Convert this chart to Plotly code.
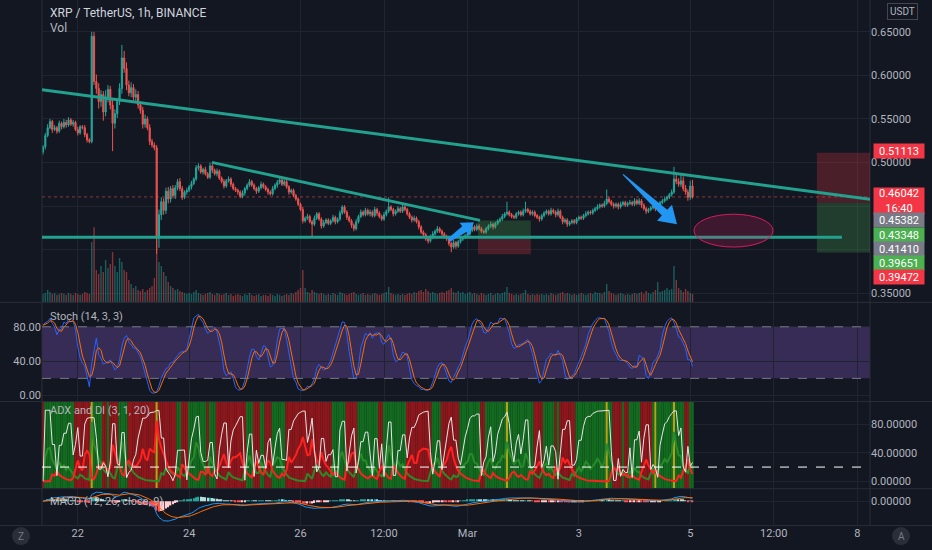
import numpy as np
import pandas as pd
import plotly.graph_objects as go

# XRP / TetherUS 1h candles (Binance); first bar 2021-02-21 09:00
start = "2021-02-21 09:00"
first_open = 0.512
closes = [
    0.518, 0.531, 0.540, 0.547, 0.538, 0.540, 0.536, 0.545, 0.541, 0.546, 0.543, 0.549,
    0.544, 0.546, 0.538, 0.534, 0.541, 0.540, 0.532, 0.526, 0.524, 0.645, 0.593, 0.585,
    0.570, 0.578, 0.558, 0.575, 0.584, 0.566, 0.545, 0.556, 0.570, 0.585, 0.620, 0.608,
    0.589, 0.580, 0.586, 0.575, 0.578, 0.566, 0.560, 0.544, 0.550, 0.540, 0.524, 0.520,
    0.517, 0.414, 0.440, 0.455, 0.445, 0.467, 0.458, 0.470, 0.462, 0.471, 0.478, 0.470,
    0.460, 0.466, 0.468, 0.472, 0.476, 0.481, 0.494, 0.496, 0.489, 0.492, 0.487, 0.483,
    0.496, 0.491, 0.487, 0.490, 0.482, 0.478, 0.473, 0.479, 0.481, 0.475, 0.470, 0.468,
    0.466, 0.461, 0.465, 0.470, 0.474, 0.478, 0.474, 0.470, 0.467, 0.471, 0.475, 0.472,
    0.469, 0.466, 0.464, 0.470, 0.474, 0.477, 0.480, 0.475, 0.478, 0.472, 0.466, 0.468,
    0.462, 0.458, 0.452, 0.446, 0.433, 0.436, 0.438, 0.432, 0.429, 0.436, 0.441, 0.435,
    0.427, 0.431, 0.434, 0.430, 0.433, 0.437, 0.432, 0.435, 0.442, 0.449, 0.443, 0.437,
    0.433, 0.428, 0.424, 0.432, 0.438, 0.443, 0.440, 0.445, 0.441, 0.443, 0.439, 0.446,
    0.442, 0.438, 0.435, 0.440, 0.444, 0.449, 0.446, 0.441, 0.444, 0.447, 0.444, 0.449,
    0.446, 0.441, 0.437, 0.434, 0.436, 0.432, 0.426, 0.420, 0.417, 0.412, 0.410, 0.414,
    0.418, 0.421, 0.424, 0.421, 0.418, 0.415, 0.412, 0.407, 0.403, 0.408, 0.404, 0.409,
    0.412, 0.414, 0.416, 0.418, 0.422, 0.426, 0.423, 0.427, 0.424, 0.421, 0.420, 0.424,
    0.427, 0.429, 0.426, 0.430, 0.433, 0.435, 0.438, 0.441, 0.443, 0.440, 0.438, 0.437,
    0.441, 0.443, 0.440, 0.444, 0.446, 0.444, 0.441, 0.443, 0.439, 0.437, 0.435, 0.439,
    0.442, 0.444, 0.441, 0.445, 0.443, 0.440, 0.444, 0.437, 0.432, 0.434, 0.429, 0.431,
    0.433, 0.431, 0.435, 0.437, 0.436, 0.439, 0.441, 0.443, 0.442, 0.445, 0.447, 0.449,
    0.451, 0.450, 0.453, 0.458, 0.455, 0.452, 0.450, 0.452, 0.449, 0.452, 0.454, 0.451,
    0.453, 0.454, 0.452, 0.456, 0.453, 0.456, 0.451, 0.447, 0.444, 0.446, 0.448, 0.450,
    0.447, 0.451, 0.454, 0.456, 0.458, 0.460, 0.463, 0.466, 0.481, 0.478, 0.475, 0.479,
    0.470, 0.466, 0.460, 0.473, 0.46042,
]
# wick lengths beyond the candle body, in thousandths of a dollar
upper_wick = [
    2, 3, 4, 3, 2, 3, 2, 3, 2, 4, 3, 3,
    2, 3, 2, 3, 2, 2, 3, 2, 2, 5, 5, 8,
    6, 5, 4, 8, 5, 4, 6, 5, 4, 6, 15, 8,
    7, 5, 6, 4, 6, 4, 3, 4, 5, 3, 4, 3,
    3, 3, 6, 5, 4, 4, 5, 3, 4, 3, 3, 4,
    3, 2, 3, 2, 3, 2, 3, 3, 2, 2, 3, 2,
    4, 2, 2, 3, 2, 2, 3, 2, 3, 2, 2, 2,
    2, 2, 3, 2, 2, 3, 2, 2, 2, 2, 3, 2,
    2, 2, 2, 3, 2, 3, 2, 2, 3, 2, 2, 2,
    2, 2, 2, 2, 3, 2, 3, 2, 2, 3, 2, 2,
    2, 3, 2, 2, 2, 3, 2, 2, 3, 2, 2, 2,
    2, 2, 2, 3, 2, 3, 2, 3, 2, 3, 2, 3,
    2, 2, 2, 3, 2, 11, 2, 2, 2, 3, 2, 3,
    2, 2, 2, 2, 3, 2, 2, 2, 2, 2, 2, 3,
    3, 2, 3, 2, 2, 2, 2, 2, 2, 3, 2, 2,
    2, 2, 2, 2, 3, 2, 2, 3, 2, 2, 2, 2,
    2, 3, 2, 2, 2, 2, 3, 2, 12, 2, 2, 2,
    2, 2, 2, 3, 9, 2, 2, 2, 2, 2, 2, 2,
    2, 2, 2, 3, 2, 2, 3, 2, 2, 2, 2, 2,
    2, 2, 2, 2, 2, 2, 3, 2, 2, 2, 2, 3,
    2, 2, 3, 11, 3, 2, 2, 2, 2, 3, 2, 2,
    2, 3, 2, 3, 2, 3, 2, 2, 2, 2, 2, 2,
    2, 2, 2, 2, 3, 2, 2, 3, 14, 6, 4, 8,
    5, 4, 3, 6, 7,
]
lower_wick = [
    3, 3, 2, 2, 4, 2, 3, 2, 3, 2, 3, 2,
    2, 3, 2, 3, 2, 2, 3, 3, 2, 2, 4, 6,
    8, 6, 10, 5, 6, 5, 32, 6, 5, 4, 6, 5,
    6, 4, 5, 4, 6, 4, 4, 5, 4, 3, 4, 3,
    3, 19, 12, 6, 5, 4, 5, 4, 3, 4, 3, 3,
    3, 2, 3, 2, 3, 2, 2, 3, 2, 3, 2, 2,
    2, 3, 2, 3, 2, 2, 3, 2, 2, 3, 2, 2,
    3, 2, 2, 3, 2, 2, 2, 2, 3, 2, 2, 2,
    2, 3, 2, 2, 2, 3, 2, 2, 2, 2, 3, 2,
    2, 2, 2, 2, 3, 2, 2, 2, 15, 2, 2, 2,
    3, 2, 2, 2, 2, 2, 3, 2, 2, 2, 2, 3,
    2, 3, 3, 2, 2, 2, 2, 2, 2, 3, 2, 2,
    3, 2, 2, 2, 2, 2, 2, 3, 2, 2, 2, 2,
    2, 2, 2, 3, 2, 2, 3, 2, 3, 2, 3, 2,
    2, 2, 2, 2, 3, 2, 2, 3, 6, 2, 3, 2,
    2, 2, 2, 2, 2, 2, 2, 2, 2, 2, 2, 2,
    2, 2, 3, 2, 2, 2, 2, 2, 2, 2, 2, 2,
    2, 2, 2, 2, 2, 2, 2, 2, 2, 2, 3, 2,
    2, 2, 2, 2, 2, 3, 2, 2, 3, 2, 3, 2,
    2, 2, 2, 2, 2, 2, 2, 2, 2, 2, 2, 2,
    2, 2, 2, 2, 2, 2, 3, 2, 3, 2, 2, 2,
    2, 2, 2, 2, 2, 2, 3, 2, 3, 2, 2, 2,
    3, 2, 2, 2, 2, 2, 2, 2, 2, 3, 3, 3,
    3, 3, 4, 3, 2,
]
# volume, millions of XRP
volume = [
    8, 9, 12, 10, 8, 9, 7, 8, 9, 8, 7, 9,
    8, 7, 9, 8, 7, 8, 10, 9, 8, 60, 75, 32,
    28, 36, 30, 42, 34, 38, 50, 36, 30, 44, 40, 32,
    30, 22, 18, 14, 16, 12, 11, 13, 10, 12, 14, 16,
    24, 65, 40, 36, 30, 26, 20, 16, 14, 12, 13, 11,
    10, 9, 8, 9, 8, 10, 12, 9, 8, 7, 8, 9,
    10, 8, 7, 9, 8, 7, 8, 9, 7, 8, 6, 7,
    8, 7, 6, 8, 7, 9, 7, 6, 7, 8, 6, 7,
    7, 6, 8, 7, 6, 8, 7, 6, 7, 8, 7, 9,
    8, 10, 12, 14, 32, 14, 10, 9, 12, 10, 9, 8,
    9, 8, 7, 8, 7, 9, 8, 7, 10, 9, 8, 7,
    8, 9, 10, 8, 7, 8, 9, 7, 8, 7, 8, 9,
    8, 7, 8, 9, 10, 15, 9, 8, 7, 8, 7, 8,
    7, 8, 9, 8, 10, 9, 11, 12, 10, 13, 11, 9,
    10, 9, 8, 9, 10, 9, 11, 12, 14, 10, 9, 11,
    9, 10, 8, 9, 10, 8, 9, 8, 7, 9, 8, 7,
    8, 9, 7, 8, 9, 8, 9, 10, 15, 9, 8, 7,
    8, 7, 8, 9, 12, 8, 7, 8, 7, 8, 7, 8,
    7, 8, 7, 9, 8, 7, 8, 9, 10, 8, 9, 8,
    7, 8, 7, 8, 9, 8, 7, 8, 9, 8, 10, 9,
    9, 8, 10, 18, 11, 9, 8, 7, 8, 9, 8, 7,
    8, 7, 8, 9, 8, 9, 10, 8, 11, 9, 8, 10,
    12, 20, 10, 11, 12, 14, 12, 13, 36, 22, 14, 12,
    10, 13, 11, 9, 8,
]
# bars the ADX script paints yellow
yellow_bars = [21, 49, 200, 243, 264, 272]

# axis ticks
time_ticks = ["2021-02-22", "2021-02-24", "2021-02-26", "2021-02-27 12:00", "2021-03-01",
              "2021-03-03", "2021-03-05", "2021-03-06 12:00", "2021-03-08"]
time_ticktext = ["22", "24", "26", "12:00", "Mar", "3", "5", "12:00", "8"]
price_ticks = [0.35, 0.40, 0.45, 0.50, 0.55, 0.60, 0.65]
price_ticktext = ["0.35000", "", "", "0.50000", "0.55000", "0.60000", "0.65000"]

# drawings on the price pane
last_price = 0.46042
trend_long = [("2021-02-21 08:34", 0.5836), ("2021-03-08 05:30", 0.4578)]
trend_short = [("2021-02-24 09:48", 0.5001), ("2021-03-01 05:24", 0.4335)]
support = 0.41410
support_end = "2021-03-07 17:24"
long_pos = dict(x0="2021-03-01 04:30", x1="2021-03-02 03:18", entry=0.41410, target=0.43348, stop=0.39472)
short_pos = dict(x0="2021-03-07 06:36", x1="2021-03-08 05:30", entry=0.45382, target=0.39651, stop=0.51113)
zone = dict(x0="2021-03-05 01:36", x1="2021-03-06 11:42", y0=0.4029, y1=0.4406)

# right-hand price labels (value, kind, stacked y position in px)
price_labels = ["0.51113", "0.46042<br>16:40", "0.45382", "0.43348", "0.41410", "0.39651", "0.39472"]
label_kind = ["stop", "last", "entry", "target", "entry", "target", "stop"]
label_y = [152, 202, 221, 236, 250, 264, 278]

W, H = 932, 550
XL, XR = 42, 870
x_range = ["2021-02-21 08:34", "2021-03-08 05:30"]
BG = "#131722"
GRID = "#20242f"
TXT = "#b2b5be"
UP, DOWN = "#26a69a", "#ef5350"
FONT = "Roboto"


def dom(top, bottom):
    return [1 - bottom / H, 1 - top / H]


n = min(len(closes), len(upper_wick), len(lower_wick), len(volume))
times = pd.date_range(start, periods=n, freq="h")
close = pd.Series(closes[:n])
opn = close.shift(1).fillna(first_open)
high = np.maximum(opn, close) + pd.Series(upper_wick[:n]) / 1000
low = np.minimum(opn, close) - pd.Series(lower_wick[:n]) / 1000

# Stoch (14, 3, 3)
ll = low.rolling(14, min_periods=1).min()
hh = high.rolling(14, min_periods=1).max()
stoch_k = (100 * (close - ll) / (hh - ll)).rolling(3, min_periods=1).mean()
stoch_d = stoch_k.rolling(3, min_periods=1).mean()

# ADX and DI (3, 1, 20)
rma = lambda s, length: s.ewm(alpha=1 / length, adjust=False).mean()
up_move = high.diff()
down_move = -low.diff()
plus_dm = up_move.where((up_move > down_move) & (up_move > 0), 0.0).fillna(0)
minus_dm = down_move.where((down_move > up_move) & (down_move > 0), 0.0).fillna(0)
prev_close = close.shift(1)
tr = pd.concat([high - low, (high - prev_close).abs(), (low - prev_close).abs()], axis=1).max(axis=1)
atr = rma(tr, 3)
di_plus = 100 * rma(plus_dm, 3) / atr
di_minus = 100 * rma(minus_dm, 3) / atr
adx = rma((100 * (di_plus - di_minus).abs() / (di_plus + di_minus)).fillna(0), 1)
bg_colors = np.where(di_plus > di_minus, "#136b1f", "#8e171b").astype(object)
for i in yellow_bars:
    if i < n:
        bg_colors[i] = "#b0a514"

# MACD (12, 26, close, 9)
macd = close.ewm(span=12, adjust=False).mean() - close.ewm(span=26, adjust=False).mean()
signal = macd.ewm(span=9, adjust=False).mean()
hist = macd - signal
hist_prev = hist.shift(1).fillna(0)
hist_colors = np.where(hist >= 0,
                       np.where(hist >= hist_prev, "#26a69a", "#b2dfdb"),
                       np.where(hist >= hist_prev, "#ffcdd2", "#ff5252"))
macd_lo = min(macd.min(), signal.min(), hist.min())

vol_colors = np.where(close >= opn, "rgba(38,166,154,0.5)", "rgba(239,83,80,0.5)")
HOUR = 3600 * 1000

fig = go.Figure()
fig.add_trace(go.Bar(x=times, y=volume[:n], marker_color=vol_colors, marker_line_width=0,
                     width=HOUR * 0.6, xaxis="x", yaxis="y"))
fig.add_trace(go.Candlestick(x=times, open=opn, high=high, low=low, close=close,
                             increasing=dict(line=dict(color=UP, width=1), fillcolor=UP),
                             decreasing=dict(line=dict(color=DOWN, width=1), fillcolor=DOWN),
                             whiskerwidth=0, xaxis="x", yaxis="y5"))

fig.add_trace(go.Scatter(x=times, y=stoch_k, mode="lines", line=dict(color="#2962ff", width=1),
                         xaxis="x2", yaxis="y2"))
fig.add_trace(go.Scatter(x=times, y=stoch_d, mode="lines", line=dict(color="#ff6d00", width=1),
                         xaxis="x2", yaxis="y2"))

fig.add_trace(go.Bar(x=times, y=[1] * n, marker_color=list(bg_colors), marker_line_width=0,
                     width=HOUR, xaxis="x3", yaxis="y3"))
fig.add_trace(go.Scatter(x=times, y=di_plus, mode="lines", line=dict(color="#2a8a2a", width=2),
                         xaxis="x3", yaxis="y6"))
fig.add_trace(go.Scatter(x=times, y=di_minus, mode="lines", line=dict(color="#ff2020", width=2),
                         xaxis="x3", yaxis="y6"))
fig.add_trace(go.Scatter(x=times, y=adx, mode="lines", line=dict(color="#e6e6e6", width=1),
                         xaxis="x3", yaxis="y6"))

fig.add_trace(go.Bar(x=times, y=hist, marker_color=hist_colors, marker_line_width=0,
                     width=HOUR * 0.6, xaxis="x4", yaxis="y4"))
fig.add_trace(go.Scatter(x=times, y=macd, mode="lines", line=dict(color="#2196f3", width=1),
                         xaxis="x4", yaxis="y4"))
fig.add_trace(go.Scatter(x=times, y=signal, mode="lines", line=dict(color="#ff6d00", width=1),
                         xaxis="x4", yaxis="y4"))

tick_font = dict(family=FONT, size=11, color=TXT)
xcommon = dict(domain=[XL / W, XR / W], range=x_range, type="date", showgrid=True, gridcolor=GRID,
               tickvals=time_ticks, ticktext=time_ticktext, zeroline=False, showline=False,
               ticks="", fixedrange=True, tickfont=tick_font)
ycommon = dict(showgrid=True, gridcolor=GRID, zeroline=False, showline=False, ticks="",
               fixedrange=True, tickfont=tick_font)

shapes = []
# pane borders
for yp in [303.5, 403, 490.5, 527.5]:
    shapes.append(dict(type="line", xref="paper", yref="paper", x0=0, x1=1, y0=1 - yp / H, y1=1 - yp / H,
                       line=dict(color="#2a2e39", width=1)))
for xp in [XL, XR]:
    shapes.append(dict(type="line", xref="paper", yref="paper", x0=xp / W, x1=xp / W, y0=1 - 527.5 / H, y1=1,
                       line=dict(color="#2a2e39", width=1)))

# stoch band
shapes.append(dict(type="rect", xref="paper", yref="y2", x0=XL / W, x1=XR / W, y0=20, y1=80,
                   fillcolor="rgba(126,87,194,0.33)", line_width=0, layer="below"))
for lvl in [20, 80]:
    shapes.append(dict(type="line", xref="paper", yref="y2", x0=XL / W, x1=XR / W, y0=lvl, y1=lvl,
                       line=dict(color="#787b86", width=1, dash="dash")))
# ADX threshold
shapes.append(dict(type="line", xref="paper", yref="y6", x0=XL / W, x1=XR / W, y0=20, y1=20,
                   line=dict(color="#ffffff", width=1, dash="dash")))

# price pane drawings
shapes.append(dict(type="line", xref="paper", yref="y5", x0=XL / W, x1=XR / W, y0=last_price, y1=last_price,
                   line=dict(color="rgba(239,83,80,0.55)", width=1, dash="dot")))
for pos in [long_pos, short_pos]:
    shapes.append(dict(type="rect", xref="x", yref="y5", x0=pos["x0"], x1=pos["x1"],
                       y0=pos["entry"], y1=pos["target"], fillcolor="rgba(76,175,80,0.25)", line_width=0))
    shapes.append(dict(type="rect", xref="x", yref="y5", x0=pos["x0"], x1=pos["x1"],
                       y0=pos["entry"], y1=pos["stop"], fillcolor="rgba(242,54,69,0.25)", line_width=0))
for (xa, ya), (xb, yb) in [trend_long, trend_short]:
    shapes.append(dict(type="line", xref="x", yref="y5", x0=xa, y0=ya, x1=xb, y1=yb,
                       line=dict(color="#22a18f", width=3)))
shapes.append(dict(type="line", xref="x", yref="y5", x0=x_range[0], x1=support_end, y0=support, y1=support,
                   line=dict(color="#22a18f", width=3)))
shapes.append(dict(type="circle", xref="x", yref="y5", x0=zone["x0"], x1=zone["x1"], y0=zone["y0"], y1=zone["y1"],
                   fillcolor="rgba(233,30,99,0.2)", line=dict(color="#d81b60", width=1)))


def arrow_path(tail, tip, head_len, head_half, shaft_half, tail_half):
    (x0, y0), (x1, y1) = tail, tip
    length = np.hypot(x1 - x0, y1 - y0)
    ux, uy = (x1 - x0) / length, (y1 - y0) / length
    nx, ny = -uy, ux
    bx, by = x1 - head_len * ux, y1 - head_len * uy
    pts = [(x0 + tail_half * nx, y0 + tail_half * ny), (bx + shaft_half * nx, by + shaft_half * ny),
           (bx + head_half * nx, by + head_half * ny), (x1, y1),
           (bx - head_half * nx, by - head_half * ny), (bx - shaft_half * nx, by - shaft_half * ny),
           (x0 - tail_half * nx, y0 - tail_half * ny)]
    return "M " + " L ".join(f"{x / W:.5f},{1 - y / H:.5f}" for x, y in pts) + " Z"


for tail, tip, hl, hh_, sh, th in [((623, 175), (677, 225), 17, 11, 4, 0.6),
                                   ((449, 241), (474, 223), 12, 8, 3.5, 2)]:
    shapes.append(dict(type="path", xref="paper", yref="paper", path=arrow_path(tail, tip, hl, hh_, sh, th),
                       fillcolor="#2196f3", line_width=0))

# corner buttons
for cx, letter in [(21, "Z"), (901, "A")]:
    shapes.append(dict(type="circle", xref="paper", yref="paper", x0=(cx - 9) / W, x1=(cx + 9) / W,
                       y0=1 - 547 / H, y1=1 - 529 / H, fillcolor="#2a2e39", line_width=0))

annotations = []


def text_at(xp, yp, text, size=12, color=TXT, **kw):
    annotations.append(dict(xref="paper", yref="paper", x=xp / W, y=1 - yp / H, text=text, showarrow=False,
                            xanchor=kw.pop("xanchor", "left"), yanchor="middle",
                            font=dict(family=FONT, size=size, color=color), **kw))


text_at(48, 13, "XRP / TetherUS, 1h, BINANCE", size=12, color="#d1d4dc")
text_at(48, 28, "Vol", size=12)
text_at(48, 318, "Stoch (14, 3, 3)", size=11)
text_at(48, 412, "ADX and DI (3, 1, 20)", size=11)
text_at(48, 503, "MACD (12, 26, close, 9)", size=11)
text_at(902, 12, "USDT", size=10, xanchor="center", bordercolor="#434651", borderwidth=1, borderpad=2)
text_at(21, 538, "Z", size=10, color="#787b86", xanchor="center")
text_at(901, 538, "A", size=10, color="#787b86", xanchor="center")

kind_color = {"stop": "#f23645", "last": "#f23645", "entry": "#787b86", "target": "#4caf50"}
for txt, kind, yp in zip(price_labels, label_kind, label_y):
    text_at(873, yp, txt, size=11, color="#ffffff", bgcolor=kind_color[kind], borderpad=1,
            width=48, height=24 if kind == "last" else 12, align="center")

fig.update_layout(
    width=W, height=H, margin=dict(l=0, r=0, t=0, b=0),
    paper_bgcolor=BG, plot_bgcolor=BG, showlegend=False, barmode="overlay", hovermode=False,
    font=dict(family=FONT, color=TXT),
    xaxis=dict(xcommon, anchor="y", showticklabels=False, rangeslider=dict(visible=False)),
    xaxis2=dict(xcommon, anchor="y2", showticklabels=False),
    xaxis3=dict(xcommon, anchor="y3", showticklabels=False),
    xaxis4=dict(xcommon, anchor="y4", showticklabels=True),
    yaxis=dict(domain=dom(0, 303), range=[0, 303], visible=False, anchor="x", fixedrange=True),
    yaxis5=dict(ycommon, overlaying="y", anchor="x", side="right", range=[0.3399, 0.6866],
                tickvals=price_ticks, ticktext=price_ticktext),
    yaxis2=dict(ycommon, domain=dom(304, 402), anchor="x2", side="left", range=[-5.8, 107.8],
                tickvals=[0, 40, 80], ticktext=["0.00", "40.00", "80.00"]),
    yaxis3=dict(domain=dom(403, 490), range=[0, 1], visible=False, anchor="x3", fixedrange=True),
    yaxis6=dict(ycommon, overlaying="y3", anchor="x3", side="right", range=[-9.8, 112.3],
                tickvals=[0, 40, 80], ticktext=["0.00000", "40.00000", "80.00000"]),
    yaxis4=dict(ycommon, domain=dom(491, 527), anchor="x4", side="right",
                range=[1.2 * macd_lo, -0.6 * macd_lo], tickvals=[0], ticktext=["0.00000"]),
    shapes=shapes,
    annotations=annotations,
)

fig.write_html("out.html", config={"displayModeBar": False},
               post_script="document.body.style.margin='0';document.body.style.overflow='hidden';")
